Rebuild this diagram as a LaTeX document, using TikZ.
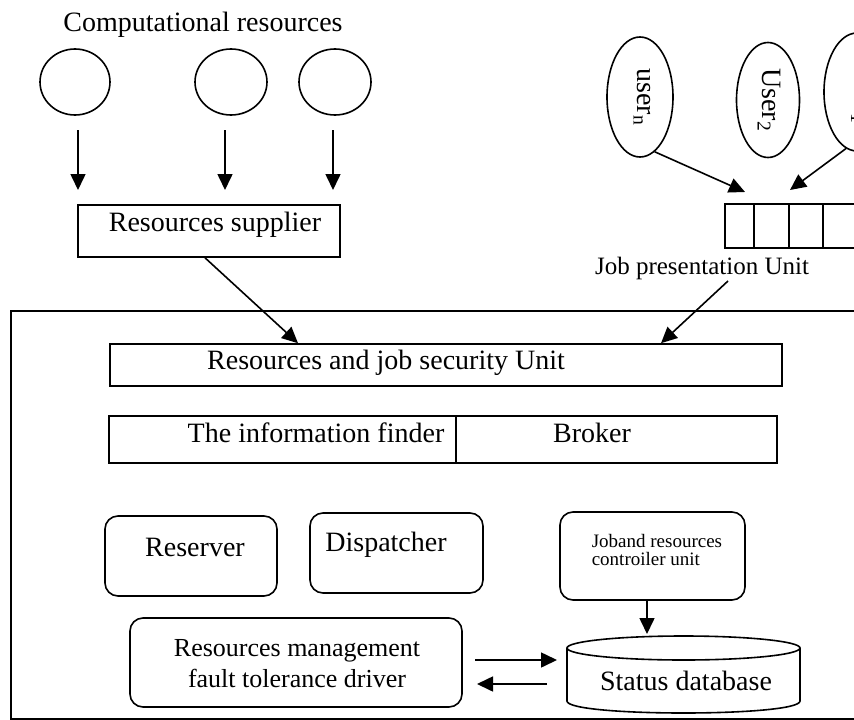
\documentclass[tikz,border=0pt]{standalone}
\usepackage{fontspec}
\setmainfont{Liberation Serif}
\usetikzlibrary{arrows.meta,shapes.geometric}
\begin{document}
\begin{tikzpicture}[x=1pt,y=-1pt,
  line width=1.6pt,
  arr/.style={-{Triangle[length=16pt,width=15pt]}},
  box/.style={draw, rectangle, inner sep=0pt},
  rbox/.style={draw, rectangle, rounded corners=13pt, inner sep=0pt},
  oval/.style={draw, ellipse, inner sep=0pt},
  big/.style={inner sep=0pt, font=\fontsize{28}{32}\selectfont},
  mid/.style={inner sep=0pt, font=\fontsize{26}{30}\selectfont},
  small/.style={inner sep=0pt, font=\fontsize{19}{22}\selectfont},
]
\useasboundingbox (0,0) rectangle (854,720);
\clip (0,0) rectangle (854,720);

% outer frame
\node[draw, rectangle, inner sep=0pt, minimum width=900pt, minimum height=408pt, anchor=north west] (frame) at (10,310) {};

% computational resources
\node[big] (tcomp) at (203,25) {Computational resources};
\node[oval, minimum width=70pt, minimum height=66pt] (c1) at (75,82) {};
\node[oval, minimum width=72pt, minimum height=66pt] (c2) at (231,82) {};
\node[oval, minimum width=72pt, minimum height=66pt] (c3) at (335,82) {};
\coordinate (a1s) at (78,130);  \coordinate (a1e) at (78,190);
\coordinate (a2s) at (225,130); \coordinate (a2e) at (225,190);
\coordinate (a3s) at (333,130); \coordinate (a3e) at (333,190);
\draw[arr] (a1s) -- (a1e);
\draw[arr] (a2s) -- (a2e);
\draw[arr] (a3s) -- (a3e);

% resources supplier
\node[box, minimum width=262pt, minimum height=52pt] (sup) at (209,231) {};
\node[big] (tsup) at (215,225) {Resources supplier};

% users
\node[oval, minimum width=66pt, minimum height=120pt] (un) at (640,97) {};
\node[oval, minimum width=63pt, minimum height=115pt] (u2) at (768,100) {};
\node[oval, minimum width=66pt, minimum height=118pt] (u1) at (857,92) {};
\node[big, rotate=-90] (tun) at (642,97) {user\textsubscript{n}};
\node[big, rotate=-90] (tu2) at (769,100) {User\textsubscript{2}};
\node[big, rotate=-90] (tu1) at (860,95) {user\textsubscript{1}};

% job presentation queue
\node[box, minimum width=29pt, minimum height=44pt] (q1) at (739.5,226) {};
\node[box, minimum width=35pt, minimum height=44pt] (q2) at (771.5,226) {};
\node[box, minimum width=34pt, minimum height=44pt] (q3) at (806,226) {};
\node[box, minimum width=40pt, minimum height=44pt] (q4) at (843,226) {};
\node[mid, font=\fontsize{25}{28}\selectfont] (tjob) at (702,268) {Job presentation Unit};
\coordinate (qa) at (745,192);
\coordinate (qb) at (790,190);
\draw[arr] (un.-75) -- (qa);
\draw[arr] (u1.-101) -- (qb);

% security unit
\node[box, minimum width=672pt, minimum height=42pt] (sec) at (446,365) {};
\node[big] (tsec) at (386,363) {Resources and job security Unit};
\coordinate (s1) at (205,0);
\coordinate (s2) at (298,0);
\coordinate (jt) at (728,281);
\coordinate (s3) at (661,0);
\draw[arr] (sup.south -| s1) -- (sec.north -| s2);
\draw[arr] (jt) -- (sec.north -| s3);

% information finder / broker
\node[box, minimum width=347pt, minimum height=47pt] (info) at (282.5,439.5) {};
\node[box, minimum width=321pt, minimum height=47pt] (brk) at (616.5,439.5) {};
\node[big] (tinfo) at (316,433) {The information finder};
\node[big] (tbrk) at (592,433) {Broker};

% reserver, dispatcher, controller
\node[rbox, minimum width=172pt, minimum height=80pt] (res) at (191,556) {};
\node[big] (tres) at (195,547) {Reserver};
\node[rbox, minimum width=173pt, minimum height=80pt] (disp) at (396.5,553) {};
\node[big] (tdisp) at (386,545) {Dispatcher};
\node[rbox, minimum width=185pt, minimum height=88pt] (ctrl) at (652.5,556) {};
\node[small, anchor=west] (tc1) at (591,541) {Joband resources};
\node[small, anchor=west] (tc2) at (591,559) {controiler unit};

% resources management
\node[rbox, minimum width=332pt, minimum height=89pt] (mgmt) at (296,662.5) {};
\node[mid] (tm1) at (297,651) {Resources management};
\node[mid] (tm2) at (297,678) {fault tolerance driver};

% status database (cylinder)
\node[inner sep=0pt, minimum width=233pt, minimum height=77pt] (db) at (683.5,674.5) {};
\draw (683.5,648) ellipse [x radius=116.5, y radius=12];
\draw (567,648) -- (567,701) .. controls (567,717) and (800,717) .. (800,701) -- (800,648);
\node[big] (tdb) at (686,681) {Status database};

\coordinate (cx) at (647,0);
\coordinate (dbtop) at (647,634);
\draw[arr] (ctrl.south -| cx) -- (dbtop);
\coordinate (r1) at (557,660);
\coordinate (l1) at (547,684);
\coordinate (m1) at (475,660);
\coordinate (m2) at (477,684);
\draw[arr] (m1) -- (r1);
\draw[arr] (l1) -- (m2);
\end{tikzpicture}
\end{document}
